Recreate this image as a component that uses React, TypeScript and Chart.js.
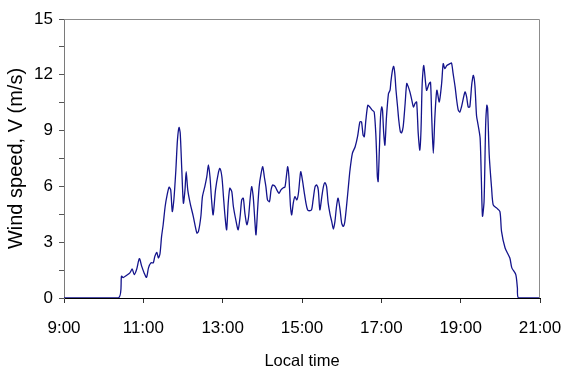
import { useEffect, useRef } from "react";
import { Chart, registerables } from "chart.js";

Chart.register(...registerables);

// Local time in decimal hours
const timeHours = [
  9.0, 10.37, 10.45, 10.49, 10.58, 10.66, 10.72, 10.77, 10.83, 10.9, 10.96, 11.02, 11.08, 11.13, 11.19,
  11.25, 11.29, 11.34, 11.38, 11.42, 11.46, 11.5, 11.55, 11.6, 11.65, 11.69, 11.73, 11.77, 11.82, 11.86,
  11.9, 11.93, 11.97, 12.01, 12.05, 12.08, 12.12, 12.18, 12.26, 12.35, 12.39, 12.45, 12.49, 12.55, 12.6,
  12.64, 12.68, 12.72, 12.76, 12.82, 12.89, 12.93, 12.98, 13.02, 13.06, 13.1, 13.14, 13.18, 13.23, 13.27,
  13.34, 13.39, 13.44, 13.48, 13.52, 13.56, 13.61, 13.65, 13.69, 13.73, 13.77, 13.81, 13.84, 13.88, 13.92,
  13.97, 14.01, 14.05, 14.09, 14.13, 14.18, 14.22, 14.26, 14.32, 14.38, 14.42, 14.47, 14.53, 14.57, 14.61,
  14.64, 14.67, 14.71, 14.74, 14.78, 14.82, 14.87, 14.91, 14.95, 14.97, 15.01, 15.06, 15.1, 15.14, 15.18,
  15.24, 15.28, 15.33, 15.37, 15.41, 15.45, 15.5, 15.54, 15.58, 15.62, 15.66, 15.71, 15.75, 15.79, 15.83,
  15.87, 15.91, 15.96, 16.0, 16.04, 16.08, 16.13, 16.17, 16.21, 16.27, 16.34, 16.4, 16.46, 16.5, 16.54,
  16.57, 16.61, 16.66, 16.71, 16.77, 16.82, 16.86, 16.88, 16.9, 16.92, 16.95, 16.98, 17.01, 17.03, 17.06,
  17.09, 17.13, 17.18, 17.22, 17.24, 17.28, 17.31, 17.34, 17.37, 17.41, 17.44, 17.48, 17.51, 17.55, 17.6,
  17.64, 17.68, 17.72, 17.76, 17.81, 17.85, 17.89, 17.93, 17.97, 18.0, 18.03, 18.07, 18.14, 18.2, 18.24,
  18.27, 18.31, 18.35, 18.4, 18.46, 18.52, 18.56, 18.6, 18.65, 18.73, 18.77, 18.81, 18.86, 18.9, 18.94,
  18.98, 19.02, 19.11, 19.15, 19.19, 19.23, 19.28, 19.32, 19.36, 19.4, 19.44, 19.49, 19.52, 19.55, 19.59,
  19.63, 19.66, 19.68, 19.72, 19.78, 19.82, 19.91, 19.99, 20.03, 20.12, 20.24, 20.29, 20.39, 20.43, 20.46,
  21.0,
];

// Wind speed V (m/s)
const windSpeed = [
  0, 0, 1.17, 1.1, 1.22, 1.35, 1.56, 1.26, 1.53, 2.12, 1.7, 1.35, 1.11, 1.62, 1.89,
  1.89, 2.24, 2.45, 2.15, 2.38, 3.31, 3.94, 4.92, 5.54, 5.96, 5.81, 4.65, 5.28, 6.88, 8.49,
  9.17, 8.85, 6.88, 5.1, 5.81, 6.79, 5.81, 5.1, 4.38, 3.49, 3.58, 4.38, 5.45, 5.99, 6.52,
  7.15, 6.52, 5.28, 4.47, 5.81, 6.71, 6.97, 6.52, 5.45, 4.38, 3.67, 5.1, 5.9, 5.72, 4.92,
  4.11, 3.67, 4.38, 5.28, 5.37, 4.56, 3.94, 4.3, 5.28, 5.99, 5.45, 4.2, 3.4, 4.74, 5.99,
  6.71, 7.06, 6.52, 5.99, 5.28, 5.18, 5.81, 6.08, 6.0, 5.75, 5.63, 5.81, 5.93, 5.96, 6.61,
  7.06, 6.52, 4.92, 4.47, 5.1, 5.45, 5.28, 5.63, 6.52, 6.79, 6.35, 5.63, 5.1, 4.74, 4.69,
  4.74, 5.28, 5.99, 6.08, 5.81, 4.74, 5.45, 5.99, 6.2, 5.99, 5.1, 4.47, 4.11, 3.71, 4.11,
  4.92, 5.37, 4.74, 4.03, 3.85, 4.11, 5.1, 6.0, 6.88, 7.78, 8.13, 8.67, 9.47, 9.47, 8.76,
  8.67, 9.56, 10.36, 10.27, 10.1, 10.0, 8.85, 7.78, 6.52, 6.26, 7.95, 9.74, 10.27, 10.1, 8.85,
  8.22, 9.74, 10.99, 11.17, 11.61, 12.24, 12.45, 12.06, 11.17, 10.27, 9.56, 8.93, 8.88, 9.2, 10.46,
  11.53, 11.35, 11.08, 10.72, 10.27, 10.46, 10.54, 8.85, 7.95, 9.02, 11.53, 12.5, 11.17, 11.5, 11.6,
  9.74, 7.78, 9.74, 11.17, 10.54, 11.53, 12.6, 12.33, 12.5, 12.6, 12.63, 12.06, 11.35, 10.63, 10.1,
  10.0, 10.27, 11.08, 10.81, 10.27, 10.27, 11.5, 11.97, 11.4, 9.8, 9.3, 8.6, 6.5, 4.4, 5.2,
  9.3, 10.36, 10.19, 7.69, 5.9, 5.01, 4.83, 4.65, 3.58, 2.69, 2.15, 1.62, 1.26, 0.55, 0,
  0,
];

const xMin = 9;
const xMax = 21;
const xStep = 2;
const yMin = 0;
const yMax = 15;
const yMinorStep = 1.5;
const yMajorStep = 3;

const yTitle = "Wind speed, V (m/s)";
const xTitle = "Local time";

const FONT = "'Liberation Sans', Arial, sans-serif";

export default function App() {
  const ref = useRef<HTMLCanvasElement>(null);

  useEffect(() => {
    document.body.style.margin = "0";
    const canvas = ref.current;
    if (!canvas) return;

    const framePlugin = {
      id: "frame",
      afterDatasetsDraw(chart: any) {
        const { ctx, chartArea } = chart;
        const { left, right, top, bottom } = chartArea;
        ctx.save();
        ctx.strokeStyle = "#8c8c8c";
        ctx.lineWidth = 1;
        ctx.beginPath();
        ctx.moveTo(Math.round(left) + 0.5, Math.round(top) + 0.5);
        ctx.lineTo(Math.round(right) - 0.5, Math.round(top) + 0.5);
        ctx.lineTo(Math.round(right) - 0.5, Math.round(bottom));
        ctx.stroke();
        ctx.restore();
      },
    };

    const points = timeHours.map((t, i) => ({ x: t, y: windSpeed[i] }));

    const chart = new Chart(canvas, {
      type: "line",
      data: {
        datasets: [
          {
            data: points,
            borderColor: "#14148c",
            borderWidth: 1.3,
            pointRadius: 0,
            tension: 0.25,
            fill: false,
          },
        ],
      },
      options: {
        animation: false,
        responsive: false,
        maintainAspectRatio: false,
        layout: { padding: { top: 19, right: 21, left: 0, bottom: 0 } },
        plugins: {
          legend: { display: false },
          tooltip: { enabled: false },
        },
        scales: {
          x: {
            type: "linear",
            min: xMin,
            max: xMax,
            afterFit: (s: any) => {
              s.height = 74;
              s.paddingRight = 0;
              s.paddingLeft = 0;
            },
            ticks: {
              stepSize: xStep,
              autoSkip: false,
              maxRotation: 0,
              padding: 15,
              color: "#000",
              font: { family: FONT, size: 17 },
              callback: (v: any) => `${v}:00`,
            },
            grid: {
              drawOnChartArea: false,
              drawTicks: true,
              tickLength: 5,
              color: "#333",
            },
            border: { color: "#000", width: 1 },
            title: {
              display: true,
              text: xTitle,
              color: "#000",
              font: { family: FONT, size: 16.5 },
              padding: { top: 0, bottom: 1 },
            },
          },
          y: {
            min: yMin,
            max: yMax,
            afterFit: (s: any) => {
              s.width = 64;
              s.paddingTop = 0;
              s.paddingBottom = 0;
            },
            ticks: {
              stepSize: yMinorStep,
              autoSkip: false,
              padding: 6,
              color: "#000",
              font: { family: FONT, size: 17 },
              callback: (v: any) => {
                const r = v / yMajorStep;
                return Math.abs(r - Math.round(r)) < 1e-6 ? String(Math.round(v)) : "";
              },
            },
            grid: {
              drawOnChartArea: false,
              drawTicks: true,
              tickLength: 5,
              color: "#555",
            },
            border: { color: "#7a7a7a", width: 1 },
            title: {
              display: true,
              text: yTitle,
              color: "#000",
              font: { family: FONT, size: 20 },
              padding: { top: 4, bottom: 0 },
            },
          },
        },
      },
      plugins: [framePlugin],
    });

    return () => chart.destroy();
  }, []);

  return (
    <div style={{ width: 561, height: 372 }}>
      <canvas ref={ref} width={561} height={372} style={{ display: "block" }} />
    </div>
  );
}
